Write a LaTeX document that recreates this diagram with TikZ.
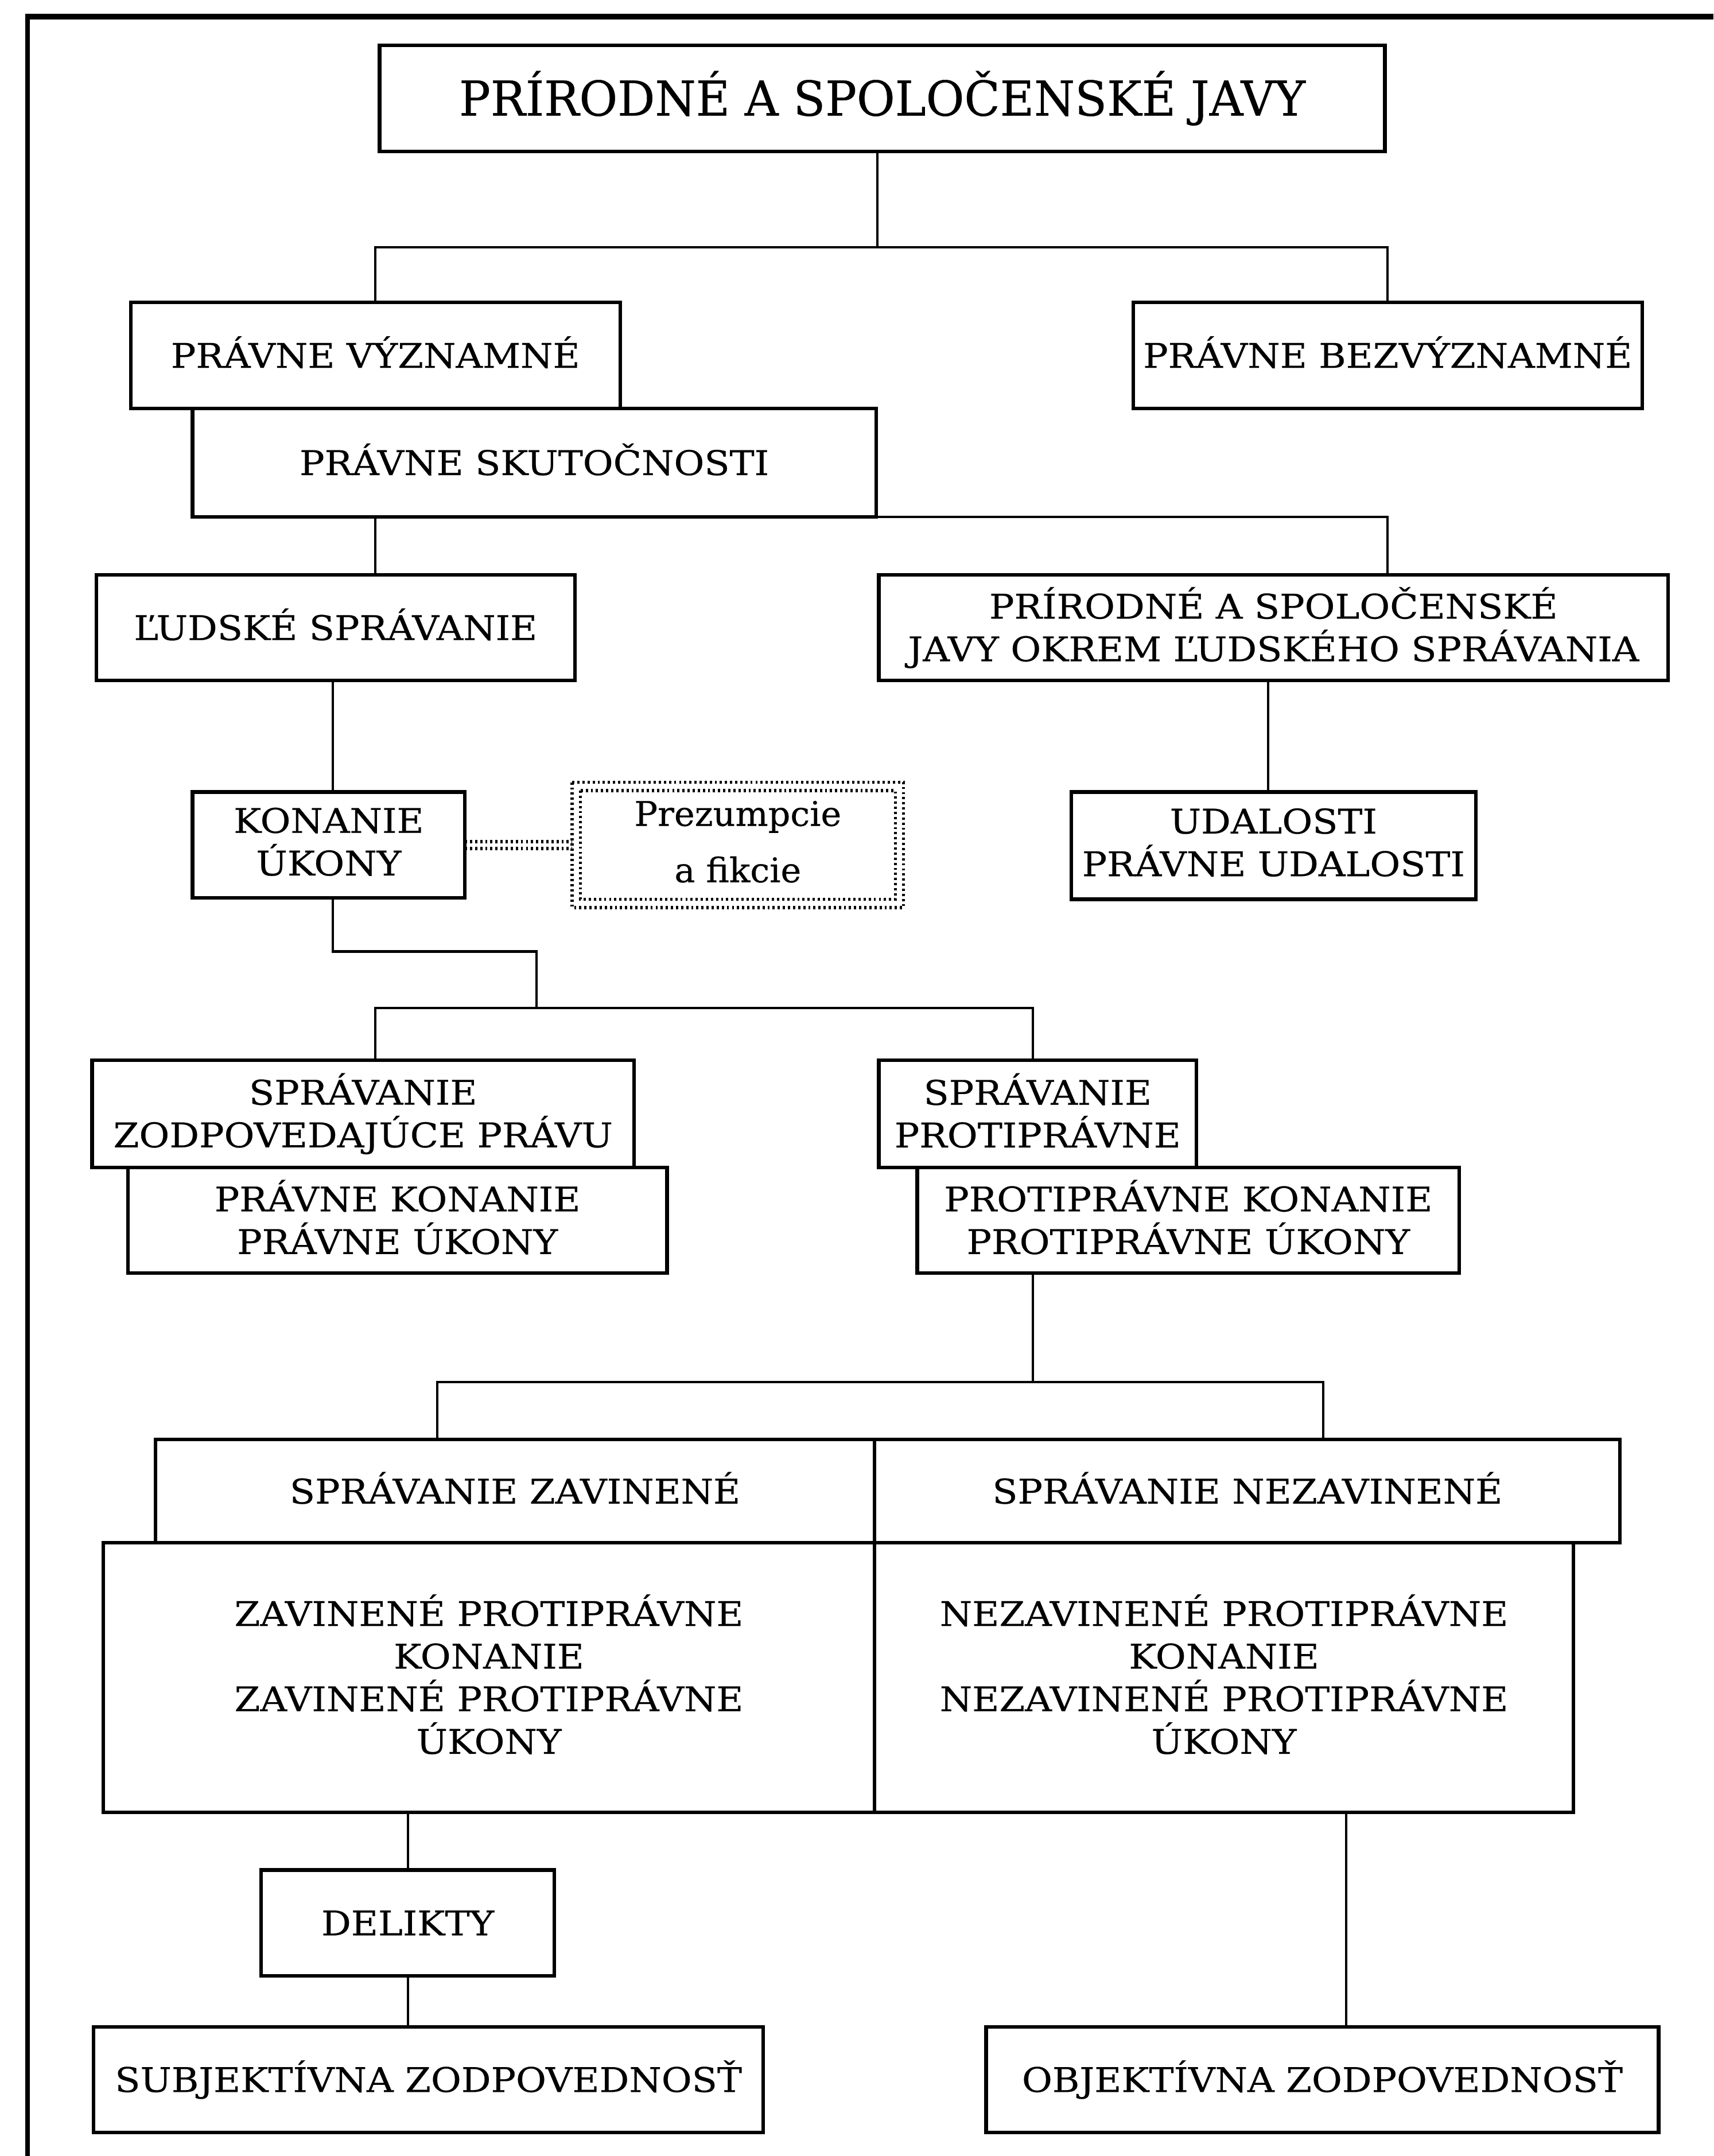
\documentclass[tikz,border=0pt]{standalone}
\usepackage{fontspec}
\setmainfont{DejaVu Serif}[FakeStretch=1.09, FakeBold=0.4]
\newfontfamily\headfamily{DejaVu Serif}[FakeStretch=0.97, FakeBold=0.4]
\newfontfamily\notefamily{DejaVu Serif}[FakeStretch=1.02, FakeBold=0.4]
\newcommand{\boxtxt}{\fontsize{24.7pt}{31pt}\selectfont}
\newcommand{\headtxt}{\headfamily\fontsize{35pt}{42pt}\selectfont}
\newcommand{\notetxt}{\notefamily\fontsize{24.7pt}{41pt}\selectfont}
% balance accent height above the capitals with equal room below the last line
\newcommand{\topstrut}{\vphantom{Á}}
\newcommand{\botstrut}{\rule[-0.2em]{0pt}{0.2em}}
\begin{document}
\begin{tikzpicture}[x=1pt,y=-1pt,
  box/.style={draw, rectangle, line width=2.6pt, inner sep=0pt, outer sep=0pt,
              align=center, font=\boxtxt,
              execute at begin node=\topstrut, execute at end node=\botstrut},
  dotline/.style={line width=2.3pt, dash pattern=on 1.6pt off 2.1pt},
  dotbox/.style={box, draw=none, font=\notetxt},
  link/.style={line width=1.7pt}]
\useasboundingbox (0,0) rectangle (1246,1568);

% outer frame (top and left edges)
\draw[line width=3pt] (20,1568) -- (20,12);
\draw[line width=4pt] (18.5,12) -- (1246,12);

% boxes
\node[box, font=\headtxt, minimum width=731pt, minimum height=77pt] (javy) at (641.5,71.5) {PRÍRODNÉ A SPOLOČENSKÉ JAVY};
\node[box, minimum width=356pt, minimum height=77pt] (pv) at (273,258.5) {PRÁVNE VÝZNAMNÉ};
\node[box, minimum width=370pt, minimum height=77pt] (pb) at (1009,258.5) {PRÁVNE BEZVÝZNAMNÉ};
\node[box, minimum width=497pt, minimum height=79pt] (ps) at (388.5,336.5) {PRÁVNE SKUTOČNOSTI};
\node[box, minimum width=348pt, minimum height=77pt] (lu) at (244,456.5) {ĽUDSKÉ SPRÁVANIE};
\node[box, minimum width=574pt, minimum height=77pt] (pj) at (926,456.5) {PRÍRODNÉ A SPOLOČENSKÉ\\JAVY OKREM ĽUDSKÉHO SPRÁVANIA};
\node[box, minimum width=198pt, minimum height=77pt] (ko) at (239,614.5) {KONANIE\\ÚKONY};
\node[dotbox, minimum width=241pt, minimum height=91pt] (pz) at (536.5,614.5) {Prezumpcie\\a fikcie};
\node[box, minimum width=294pt, minimum height=78pt] (ud) at (926,615) {UDALOSTI\\PRÁVNE UDALOSTI};
\node[box, minimum width=394pt, minimum height=78pt] (sz) at (264,810) {SPRÁVANIE\\ZODPOVEDAJÚCE PRÁVU};
\node[box, minimum width=392pt, minimum height=77pt] (pk) at (289,887.5) {PRÁVNE KONANIE\\PRÁVNE ÚKONY};
\node[box, minimum width=231pt, minimum height=78pt] (sp) at (754.5,810) {SPRÁVANIE\\PROTIPRÁVNE};
\node[box, minimum width=394pt, minimum height=77pt] (ppk) at (864,887.5) {PROTIPRÁVNE KONANIE\\PROTIPRÁVNE ÚKONY};
\node[box, minimum width=523pt, minimum height=75pt] (zv) at (374.5,1084.5) {SPRÁVANIE ZAVINENÉ};
\node[box, minimum width=542pt, minimum height=75pt] (nz) at (907,1084.5) {SPRÁVANIE NEZAVINENÉ};
\node[box, minimum width=561pt, minimum height=196pt] (zk) at (355.5,1220) {ZAVINENÉ PROTIPRÁVNE\\KONANIE\\ZAVINENÉ PROTIPRÁVNE\\ÚKONY};
\node[box, minimum width=508pt, minimum height=196pt] (nk) at (890,1220) {NEZAVINENÉ PROTIPRÁVNE\\KONANIE\\NEZAVINENÉ PROTIPRÁVNE\\ÚKONY};
\node[box, minimum width=213pt, minimum height=77pt] (de) at (296.5,1398.5) {DELIKTY};
\node[box, minimum width=487pt, minimum height=77pt] (su) at (311.5,1512.5) {SUBJEKTÍVNA ZODPOVEDNOSŤ};
\node[box, minimum width=489pt, minimum height=77pt] (ob) at (961.5,1512.5) {OBJEKTÍVNA ZODPOVEDNOSŤ};

% double dotted outline of the note
\draw[dotline] (pz.north west) rectangle (pz.south east);
\draw[dotline] ([shift={(6,6)}]pz.north west) rectangle ([shift={(-6,-6)}]pz.south east);

% branch points
\coordinate (f1) at (638,180);
\coordinate (f2) at (390,733);
\coordinate (f3) at (751,1005);
\coordinate (kx) at (242,692);

% connectors
\draw[link] (javy.south -| f1) -- (f1);
\draw[link] (pv.north) -- (pv.north |- f1) -- (pb.north |- f1) -- (pb.north);
\draw[link] (ps.south east) -| (pj.north -| pb.north);
\draw[link] (ps.south -| pv.north) -- (lu.north -| pv.north);
\draw[link] (lu.south -| kx) -- (ko.north -| kx);
\draw[link] ([xshift=-4pt]pj.south) -- ([xshift=-4pt]ud.north);
\draw[link] (ko.south -| kx) -- (kx) -| (f2);
\draw[link] (sz.north -| 273,0) |- (f2) -| (sp.north -| 751,0);
\draw[link] (ppk.south -| f3) -- (f3);
\draw[link] (zv.north -| 318,0) |- (f3) -| (nz.north -| 962,0);
\draw[link] (de.north |- zk.south) -- (de.north);
\draw[link] (de.south) -- (su.north -| de.south);
\draw[link] (nk.south -| 979,0) -- (ob.north -| 979,0);

% dotted tie between the acts and the note
\draw[dotline] ([yshift=-2.5pt]ko.east) -- ([yshift=-2.5pt]pz.west);
\draw[dotline] ([yshift=2.5pt]ko.east) -- ([yshift=2.5pt]pz.west);
\end{tikzpicture}
\end{document}
